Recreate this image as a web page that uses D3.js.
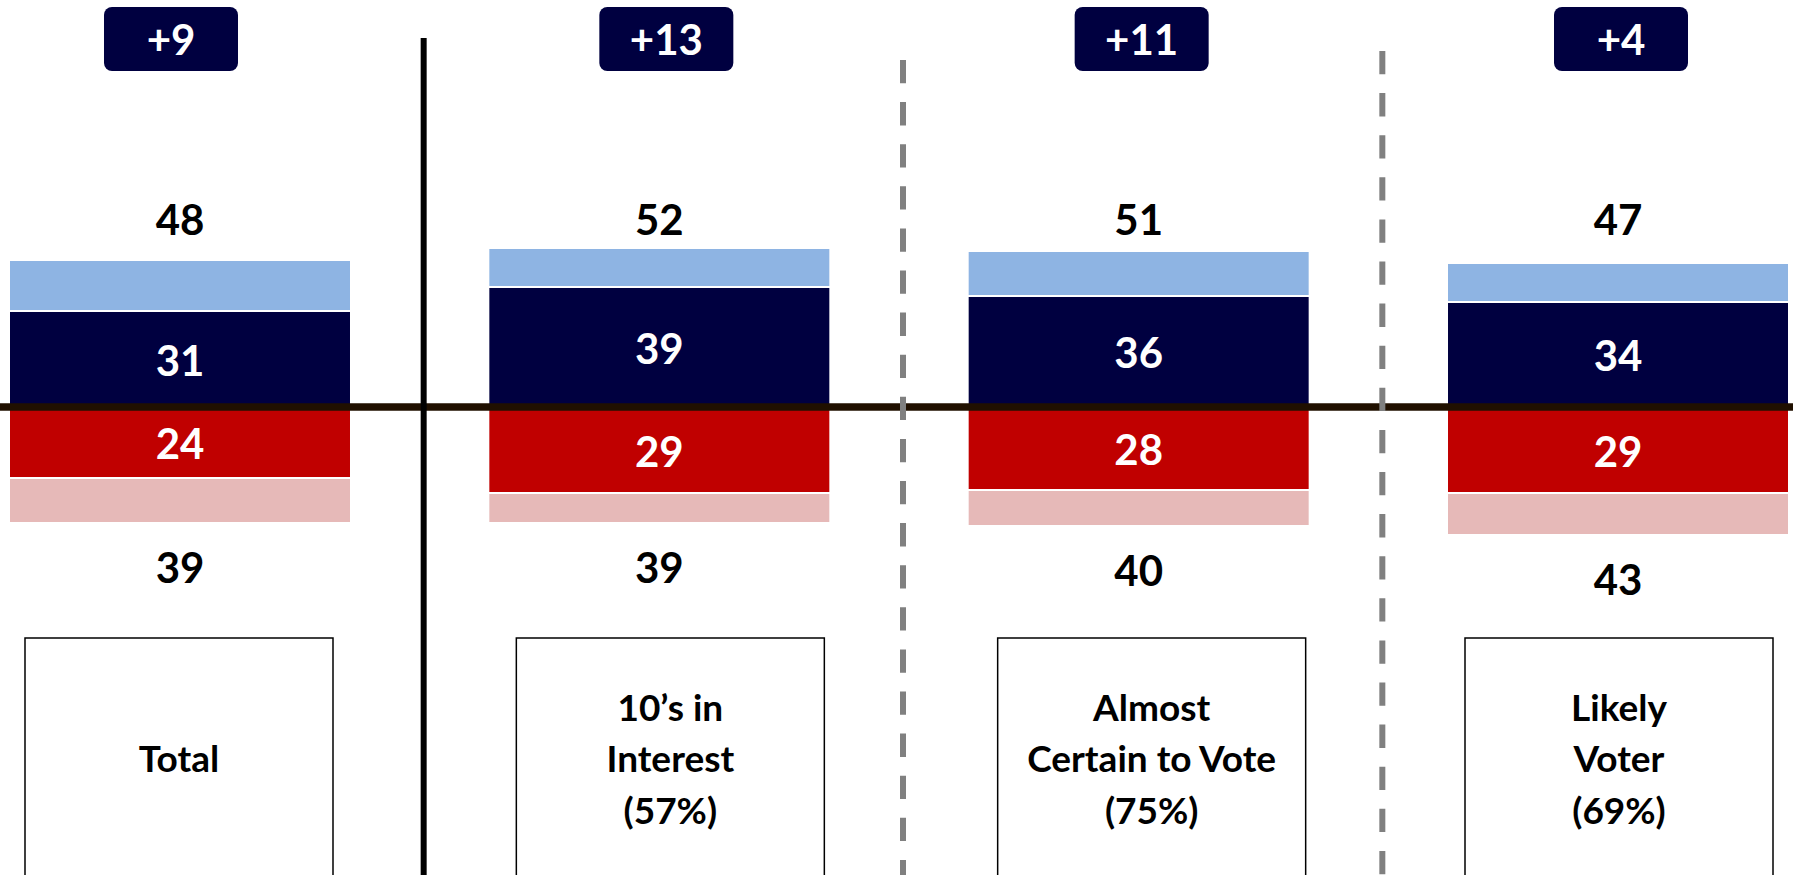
<!DOCTYPE html>
<html>
<head>
<meta charset="utf-8">
<script src="https://cdn.jsdelivr.net/npm/d3@7"></script>
<style>
  html, body { margin: 0; padding: 0; background: #ffffff; }
  svg { display: block; }
  text { font-family: Lato, "Open Sans", "Liberation Sans", sans-serif; font-weight: 700; }
</style>
</head>
<body>
<script>
// ---------------- data ----------------
const categories = ["Total", "10’s in Interest (57%)", "Almost Certain to Vote (75%)", "Likely Voter (69%)"];
const categoryLines = [["Total"], ["10’s in", "Interest", "(57%)"], ["Almost", "Certain to Vote", "(75%)"], ["Likely", "Voter", "(69%)"]];
const demTotal  = [48, 52, 51, 47];   // light blue + navy (total Democratic)
const demStrong = [31, 39, 36, 34];   // navy (strong Democratic)
const repStrong = [24, 29, 28, 29];   // red (strong Republican)
const repTotal  = [39, 39, 40, 43];   // red + pink (total Republican)
const separatorStyles = ["solid", "dashed", "dashed"];

// ---------------- layout ----------------
const W = 1793, H = 875;
const colors = { demSoft: "#8EB4E3", demStrong: "#000040", repStrong: "#C00000", repSoft: "#E6B9B8" };
const numFont = 42, catFont = 37;
// small horizontal nudges of the annotation boxes relative to the bar centre (layout only)
const badgeNudge = [-9, 7, 3, 3];
const boxNudge = [-1, 11, 13, 1];

const svg = d3.select("body").append("svg").attr("width", W).attr("height", H);

const x = d3.scaleBand().domain(categories).range([10, 1788]).paddingInner(0.2907).paddingOuter(0);
const y = d3.scaleLinear().domain([-50, 50]).range([555, 255]);

const rows = categories.map((c, i) => ({
  i, cat: c, lines: categoryLines[i],
  dT: demTotal[i], dS: demStrong[i], rS: repStrong[i], rT: repTotal[i],
  margin: demTotal[i] - repTotal[i]
}));

const gap = 2;
const g = svg.append("g");

// soft Democratic (light blue)
g.selectAll("rect.demSoft").data(rows).join("rect")
  .attr("class", "demSoft")
  .attr("x", d => x(d.cat)).attr("width", x.bandwidth())
  .attr("y", d => y(d.dT))
  .attr("height", d => y(d.dS) - y(d.dT) - gap)
  .attr("fill", colors.demSoft);

// strong Democratic (navy)
g.selectAll("rect.demStrong").data(rows).join("rect")
  .attr("class", "demStrong")
  .attr("x", d => x(d.cat)).attr("width", x.bandwidth())
  .attr("y", d => y(d.dS))
  .attr("height", d => y(0) - y(d.dS))
  .attr("fill", colors.demStrong);

// strong Republican (red)
g.selectAll("rect.repStrong").data(rows).join("rect")
  .attr("class", "repStrong")
  .attr("x", d => x(d.cat)).attr("width", x.bandwidth())
  .attr("y", y(0))
  .attr("height", d => y(-d.rS) - y(0))
  .attr("fill", colors.repStrong);

// soft Republican (pink)
g.selectAll("rect.repSoft").data(rows).join("rect")
  .attr("class", "repSoft")
  .attr("x", d => x(d.cat)).attr("width", x.bandwidth())
  .attr("y", d => y(-d.rS) + gap)
  .attr("height", d => y(-d.rT) - y(-d.rS) - gap)
  .attr("fill", colors.repSoft);

const cx = d => x(d.cat) + x.bandwidth() / 2;
const base = (center, fs) => center + 0.358 * fs;

// zero line
svg.append("line")
  .attr("x1", 0).attr("x2", W)
  .attr("y1", y(0) + 2).attr("y2", y(0) + 2)
  .attr("stroke", "#201000").attr("stroke-width", 7.5);

// separators
const sepX = separatorStyles.map((s, i) => {
  const prevEnd = x(categories[i]) + x.bandwidth();
  const nextStart = x(categories[i + 1]);
  return (prevEnd + nextStart) / 2 + 4;
});
const sepTop = [38, 60, 51];
separatorStyles.forEach((s, i) => {
  const ln = svg.append("line")
    .attr("x1", sepX[i]).attr("x2", sepX[i])
    .attr("y1", sepTop[i]).attr("y2", H)
    .attr("stroke-width", 6);
  if (s === "solid") ln.attr("stroke", "#000000");
  else ln.attr("stroke", "#808080").attr("stroke-dasharray", "23.3 18.8");
});

// labels inside bars
svg.selectAll("text.dS").data(rows).join("text")
  .attr("class", "dS")
  .attr("x", cx).attr("y", d => base((y(d.dS) + y(0)) / 2 + 2, numFont))
  .attr("text-anchor", "middle").attr("font-size", numFont).attr("fill", "#ffffff")
  .text(d => d.dS);

svg.selectAll("text.rS").data(rows).join("text")
  .attr("class", "rS")
  .attr("x", cx).attr("y", d => base((y(0) + y(-d.rS)) / 2 + 3, numFont))
  .attr("text-anchor", "middle").attr("font-size", numFont).attr("fill", "#ffffff")
  .text(d => d.rS);

// totals
svg.selectAll("text.dT").data(rows).join("text")
  .attr("class", "dT")
  .attr("x", cx).attr("y", base(220, numFont))
  .attr("text-anchor", "middle").attr("font-size", numFont).attr("fill", "#000000")
  .text(d => d.dT);

svg.selectAll("text.rT").data(rows).join("text")
  .attr("class", "rT")
  .attr("x", cx).attr("y", d => base(y(-d.rT) + 46, numFont))
  .attr("text-anchor", "middle").attr("font-size", numFont).attr("fill", "#000000")
  .text(d => d.rT);

// margin badges
const bw = 134, bh = 64;
const bcx = d => cx(d) + badgeNudge[d.i];
svg.selectAll("rect.badge").data(rows).join("rect")
  .attr("class", "badge")
  .attr("x", d => bcx(d) - bw / 2).attr("y", 7)
  .attr("width", bw).attr("height", bh).attr("rx", 8).attr("ry", 8)
  .attr("fill", colors.demStrong);

svg.selectAll("text.badge").data(rows).join("text")
  .attr("class", "badge")
  .attr("x", bcx).attr("y", base(40, numFont))
  .attr("text-anchor", "middle").attr("font-size", numFont).attr("fill", "#ffffff")
  .text(d => (d.margin > 0 ? "+" : "") + d.margin);

// category boxes
const boxW = 308;
const kcx = d => cx(d) + boxNudge[d.i];
svg.selectAll("rect.catBox").data(rows).join("rect")
  .attr("class", "catBox")
  .attr("x", d => kcx(d) - boxW / 2).attr("y", 638)
  .attr("width", boxW).attr("height", 300)
  .attr("fill", "#ffffff").attr("stroke", "#000000").attr("stroke-width", 1.5);

const lineH = 51.5;
rows.forEach(d => {
  const t = svg.append("text")
    .attr("text-anchor", "middle").attr("font-size", catFont).attr("fill", "#000000");
  const n = d.lines.length;
  d.lines.forEach((ln, k) => {
    const center = 759 + (k - (n - 1) / 2) * lineH;
    t.append("tspan").attr("x", kcx(d)).attr("y", base(center, catFont)).text(ln);
  });
});
</script>
</body>
</html>
